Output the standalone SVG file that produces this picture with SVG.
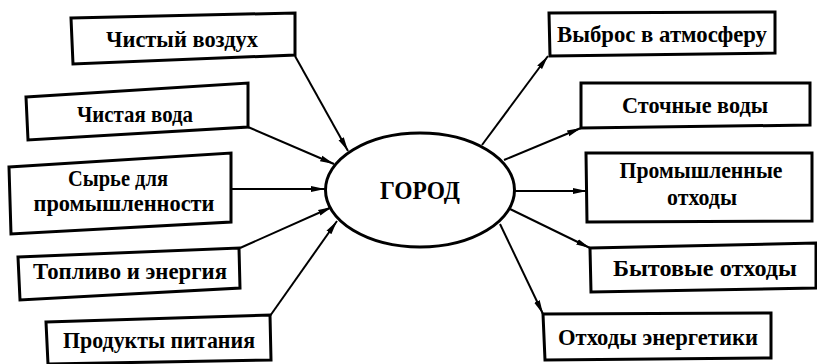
<svg xmlns="http://www.w3.org/2000/svg" width="817" height="364" viewBox="0 0 817 364">
<style>
.box{fill:#fff;stroke:#000;stroke-width:3;stroke-linejoin:miter}
.t{font-family:"Liberation Serif","DejaVu Serif","Noto Serif",serif;font-weight:bold;font-size:23px;text-anchor:middle;fill:#000}
.c{font-family:"Liberation Serif","DejaVu Serif","Noto Serif",serif;font-weight:bold;font-size:26px;text-anchor:middle;fill:#000}
.ln{fill:none;stroke:#000;stroke-width:2;marker-end:url(#ah)}
</style>
<defs>
<marker id="ah" markerUnits="userSpaceOnUse" markerWidth="15" markerHeight="8" refX="14" refY="4" orient="auto">
<path d="M0,1 L14,4 L0,7 Z" fill="#000"/>
</marker>
</defs>
<rect width="817" height="364" fill="#fff"/>
<g id="connectors">
<line class="ln" x1="295" y1="56" x2="348" y2="151"/>
<line class="ln" x1="248" y1="127" x2="334" y2="164"/>
<line class="ln" x1="230" y1="189" x2="325" y2="189"/>
<line class="ln" x1="240" y1="248" x2="332" y2="207"/>
<line class="ln" x1="270" y1="316" x2="337" y2="221"/>
<line class="ln" x1="482" y1="145" x2="548" y2="56"/>
<line class="ln" x1="504" y1="160" x2="581" y2="128"/>
<line class="ln" x1="515" y1="191" x2="587" y2="191"/>
<line class="ln" x1="510" y1="209" x2="590" y2="248"/>
<line class="ln" x1="500" y1="224" x2="543" y2="314"/>
</g>
<g id="city">
<ellipse cx="420" cy="190" rx="94.5" ry="57" fill="#fff" stroke="#000" stroke-width="3"/>
<text class="c" x="420" y="199" textLength="80" lengthAdjust="spacingAndGlyphs">ГОРОД</text>
</g>
<g id="n1"><polygon class="box" points="71,18 295,13 295,55 73,64"/><text class="t" x="182" y="47" textLength="152" lengthAdjust="spacingAndGlyphs">Чистый воздух</text></g>
<g id="n2"><polygon class="box" points="26,97 248,83 248,127 28,140"/><text class="t" x="135" y="122" textLength="116" lengthAdjust="spacingAndGlyphs">Чистая вода</text></g>
<g id="n3"><polygon class="box" points="9,167 231,153 231,222 11,234"/><text class="t" x="118" y="186" textLength="100" lengthAdjust="spacingAndGlyphs">Сырье для</text><text class="t" x="124" y="211" textLength="181" lengthAdjust="spacingAndGlyphs">промышленности</text></g>
<g id="n4"><polygon class="box" points="18,257 239,248 240,288 20,300"/><text class="t" x="130" y="279" textLength="194" lengthAdjust="spacingAndGlyphs">Топливо и энергия</text></g>
<g id="n5"><polygon class="box" points="46,322 270,315 271,360 48,364"/><text class="t" x="159" y="348" textLength="192" lengthAdjust="spacingAndGlyphs">Продукты питания</text></g>
<g id="n6"><polygon class="box" points="549,13 775,12 775,53 550,56"/><text class="t" x="662" y="42" textLength="210" lengthAdjust="spacingAndGlyphs">Выброс  в атмосферу</text></g>
<g id="n7"><polygon class="box" points="581,83 810,83 810,125 581,128"/><text class="t" x="695" y="113" textLength="146" lengthAdjust="spacingAndGlyphs">Сточные воды</text></g>
<g id="n8"><polygon class="box" points="586,153 812,153 812,221 587,222"/><text class="t" x="701" y="178" textLength="163" lengthAdjust="spacingAndGlyphs">Промышленные</text><text class="t" x="702" y="205" textLength="70" lengthAdjust="spacingAndGlyphs">отходы</text></g>
<g id="n9"><polygon class="box" points="590,248 816,243 816,288 591,292"/><text class="t" x="705" y="276" textLength="184" lengthAdjust="spacingAndGlyphs">Бытовые отходы</text></g>
<g id="n10"><polygon class="box" points="543,314 771,313 771,358 545,360"/><text class="t" x="658" y="345" textLength="200" lengthAdjust="spacingAndGlyphs">Отходы энергетики</text></g>
</svg>
